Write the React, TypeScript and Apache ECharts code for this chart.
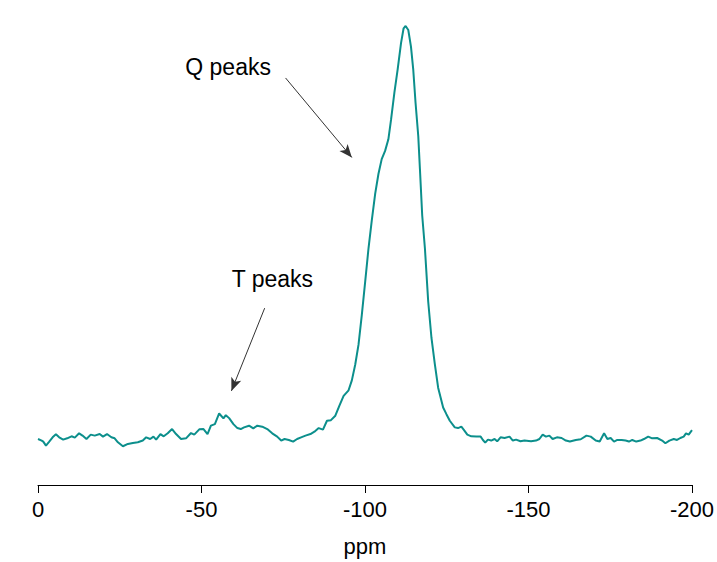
import React, { useEffect, useRef } from "react";
import * as echarts from "echarts";

// Chemical shift (ppm)
const ppm: number[] = [
  0, -1.13, -1.61, -2.44, -3.44, -4.47, -5.48, -6.48, -7.7, -8.92, -10.26, -11.26, -12.57, -13.61, -14.82,
  -16.13, -17.35, -18.87, -19.88, -21.1, -22.44, -23.44, -24.44, -25.97, -27.49, -29.01, -30.53, -32.05,
  -33.09, -34.31, -35.31, -36.13, -37.44, -38.45, -39.67, -41.0, -42.22, -43.74, -45.27, -46.79, -47.79,
  -49.32, -50.62, -51.84, -52.88, -54.09, -55.4, -56.71, -57.44, -58.45, -59.76, -60.97, -62.01, -63.01,
  -64.54, -65.84, -67.06, -68.58, -70.11, -71.63, -73.15, -74.37, -75.4, -76.71, -78.02, -79.24, -80.46,
  -81.8, -83.32, -84.54, -85.84, -87.15, -88.37, -89.59, -90.93, -92.15, -93.46, -94.98, -95.98, -97.02,
  -98.02, -99.03, -100.06, -101.07, -102.07, -103.11, -104.11, -105.11, -106.15, -107.15, -107.98, -108.98,
  -109.98, -111.02, -111.81, -112.42, -113.24, -114.06, -114.76, -115.46, -116.29, -116.8, -117.5, -118.33,
  -119.33, -120.33, -121.37, -122.37, -123.9, -124.9, -125.94, -127.46, -128.46, -129.47, -130.29, -131.29,
  -132.51, -134.03, -135.37, -136.07, -136.77, -137.6, -138.6, -139.63, -140.43, -141.46, -142.68, -144.2,
  -145.21, -146.21, -147.55, -148.77, -150.78, -152.3, -153.33, -154.34, -155.34, -156.38, -157.38, -158.69,
  -160.12, -161.43, -162.65, -164.47, -165.99, -167.73, -169.04, -170.56, -171.78, -173.12, -174.12, -175.13,
  -176.16, -177.17, -178.48, -179.7, -180.73, -181.74, -182.95, -184.26, -185.3, -186.61, -187.82, -189.35,
  -190.87, -191.87, -193.09, -194.43, -195.43, -196.44, -197.47, -198.17, -198.99, -200.0,
];

// Relative intensity (peak = 100)
const intensity: number[] = [
  10.02, 9.68, 9.46, 8.59, 9.46, 10.39, 11.04, 10.39, 9.89, 10.17, 10.61, 10.32, 11.26, 10.76, 10.02,
  10.97, 10.76, 11.1, 10.54, 11.1, 10.39, 10.17, 9.31, 8.44, 8.94, 9.16, 9.31, 9.68,
  10.39, 10.02, 10.54, 9.89, 11.1, 10.61, 11.26, 12.19, 11.1, 10.02, 10.17, 11.32, 10.97,
  12.12, 12.19, 11.1, 12.92, 13.27, 15.58, 14.5, 15.22, 14.57, 13.27, 12.4, 12.19, 12.55,
  12.92, 12.34, 12.92, 12.71, 12.19, 11.26, 10.54, 9.68, 10.02, 9.81, 9.46, 10.02, 10.39,
  10.76, 11.1, 11.62, 12.4, 12.06, 14.0, 14.13, 15.09, 17.25, 19.42, 20.63, 22.79, 26.26,
  30.58, 37.08, 44.31, 51.52, 57.58, 63.42, 67.75, 71.0, 72.79, 75.32, 79.65, 85.43,
  90.48, 96.26, 99.5, 100, 99.13, 95.52, 90.48, 83.27, 76.04, 68.83, 58.72, 51.52,
  39.98, 32.03, 26.26, 21.21, 16.88, 15.43, 14.0, 12.55, 12.4, 12.71, 11.97, 10.97,
  10.61, 10.54, 10.54, 9.81, 9.24, 9.89, 9.68, 10.02, 9.52, 10.39, 10.24, 10.54,
  9.68, 9.89, 9.52, 9.68, 9.52, 9.68, 10.02, 10.97, 10.54, 10.76, 10.02, 10.39,
  10.24, 9.68, 9.46, 9.81, 9.96, 10.76, 10.54, 9.68, 9.46, 11.26, 10.02, 10.24,
  9.46, 9.81, 9.81, 9.68, 9.46, 9.81, 9.46, 9.68, 10.02, 10.54, 10.17, 10.24,
  9.68, 9.09, 9.68, 10.02, 9.81, 10.24, 10.54, 11.26, 10.97, 11.97,
];

const xTicks: number[] = [0, -50, -100, -150, -200];
const xTitle = "ppm";

// Annotations: label text, label centre and arrow start / tip in data units
const annotationLabels: string[] = ["Q peaks", "T peaks"];
const labelCentres: number[][] = [[-58.14, 91.1], [-71.69, 44.8]];
const arrowStarts: number[][] = [[-75.71, 88.68], [-69.32, 38.53]];
const arrowTips: number[][] = [[-95.98, 71.36], [-59.15, 20.5]];

export default function App() {
  const ref = useRef<HTMLDivElement>(null);

  useEffect(() => {
    if (!ref.current) return;
    const chart = echarts.init(ref.current, undefined, { renderer: "svg" });
    const font = "'Liberation Sans', Arial, sans-serif";
    const data = ppm.map((p, i) => [p, intensity[i]]);

    chart.setOption({
      animation: false,
      backgroundColor: "#ffffff",
      grid: { left: 38, right: 22, top: 26, bottom: 74, containLabel: false },
      xAxis: {
        type: "value",
        inverse: true,
        min: -200,
        max: 0,
        interval: 50,
        name: xTitle,
        nameLocation: "middle",
        nameGap: 50,
        nameTextStyle: { color: "#000", fontSize: 22, fontFamily: font },
        axisLine: { show: true, lineStyle: { color: "#000", width: 1 } },
        axisTick: { show: true, length: 8, lineStyle: { color: "#000", width: 1 } },
        axisLabel: {
          color: "#000",
          fontSize: 22,
          fontFamily: font,
          margin: 13,
          formatter: (v: number) => (xTicks.includes(v) ? String(v) : ""),
        },
        splitLine: { show: false },
      },
      yAxis: {
        type: "value",
        min: 0,
        max: 100,
        show: false,
      },
      series: [
        {
          type: "line",
          data,
          showSymbol: false,
          symbol: "none",
          clip: false,
          lineStyle: { color: "#0c8f8c", width: 2 },
          markLine: {
            silent: true,
            symbol: ["none", "arrow"],
            symbolSize: [8, 13],
            label: { show: false },
            lineStyle: { color: "#333", width: 1, type: "solid" },
            data: arrowStarts.map((s, i) => [
              { coord: s },
              { coord: arrowTips[i] },
            ]),
          },
          markPoint: {
            silent: true,
            symbol: "circle",
            symbolSize: 0,
            data: labelCentres.map((a, i) => ({
              coord: a,
              value: annotationLabels[i],
              label: {
                show: true,
                formatter: annotationLabels[i],
                color: "#000",
                fontSize: 23,
                fontFamily: font,
                position: "inside",
              },
            })),
          },
        },
      ],
    });

    return () => chart.dispose();
  }, []);

  return (
    <div
      ref={ref}
      style={{ position: "absolute", left: 0, top: 0, width: 717, height: 562 }}
    />
  );
}
